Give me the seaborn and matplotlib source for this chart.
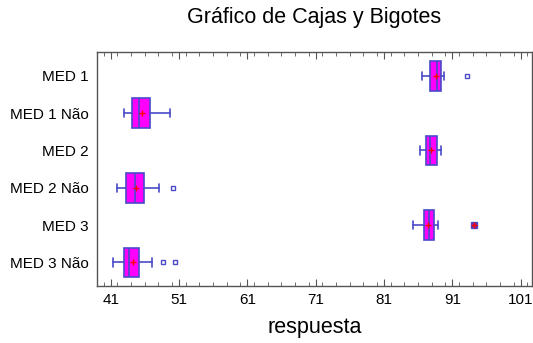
import matplotlib
matplotlib.use("Agg")
import matplotlib.pyplot as plt
import numpy as np
import seaborn as sns
from matplotlib.ticker import MultipleLocator

# box statistics
groups = ["MED 1", "MED 1 Não", "MED 2", "MED 2 Não", "MED 3", "MED 3 Não"]
whis_lo = [86.5, 43.0, 86.2, 42.0, 85.3, 41.4]
q1 = [87.8, 44.1, 87.2, 43.3, 86.9, 43.0]
median = [88.7, 45.1, 87.8, 44.6, 87.6, 43.7]
q3 = [89.3, 46.7, 88.8, 45.9, 88.3, 45.1]
whis_hi = [89.8, 49.7, 89.3, 48.1, 88.9, 47.0]
means = [88.6, 45.6, 87.9, 44.7, 87.5, 44.2]
outliers = [[93.2], [], [], [50.1], [], [48.6, 50.4]]
far_outliers = [[], [], [], [], [94.2], []]
x_ticks = [41, 51, 61, 71, 81, 91, 101]

sns.set_style("ticks")
plt.rcParams["font.family"] = ["Liberation Sans", "DejaVu Sans"]
plt.rcParams["text.color"] = "black"
plt.rcParams["axes.labelcolor"] = "black"
plt.rcParams["xtick.labelcolor"] = "black"
plt.rcParams["ytick.labelcolor"] = "black"

box_edge = "#4a4ac8"
fig = plt.figure(figsize=(5.33, 3.43), dpi=100)
ax = fig.add_axes([0.1826, 0.1662, 0.8154, 0.6813])

stats = []
for i, g in enumerate(groups):
    stats.append(dict(label=g, whislo=whis_lo[i], q1=q1[i], med=median[i],
                      q3=q3[i], whishi=whis_hi[i], mean=means[i],
                      fliers=np.array(outliers[i])))

ax.bxp(stats, positions=np.arange(len(groups)), vert=False, widths=0.8,
       patch_artist=True, showmeans=False, showcaps=True,
       boxprops=dict(facecolor="#ff00ff", edgecolor=box_edge, linewidth=1.2),
       medianprops=dict(color=box_edge, linewidth=1.2),
       whiskerprops=dict(color=box_edge, linewidth=1.2),
       capprops=dict(color=box_edge, linewidth=1.2),
       capwidths=0.22,
       flierprops=dict(marker="s", markersize=3, markerfacecolor="none",
                       markeredgecolor=box_edge, markeredgewidth=1.0))

# far outliers: filled square with red plus
far_x = [v for lst in far_outliers for v in lst]
far_y = [i for i, lst in enumerate(far_outliers) for _ in lst]
ax.plot(far_x, far_y, linestyle="none", marker="s", markersize=4,
        markerfacecolor="#7a2a9a", markeredgecolor=box_edge)
ax.plot(far_x, far_y, linestyle="none", marker="+", markersize=4,
        color="red", markeredgewidth=1.0)

# means
sns.scatterplot(x=means, y=np.arange(len(groups)), marker="+", s=25,
                color="red", linewidth=1.0, ax=ax, zorder=5, legend=False)

ax.set_xlim(39.05, 102.65)
ax.set_ylim(5.63, -0.63)
ax.set_yticks(np.arange(len(groups)))
ax.set_yticklabels(groups, fontsize=11)
ax.set_xticks(x_ticks)
ax.set_xticklabels([str(t) for t in x_ticks], fontsize=11)
ax.xaxis.set_minor_locator(MultipleLocator(2))
ax.tick_params(axis="x", which="both", direction="in", top=True, bottom=True,
               color="#555555")
ax.tick_params(axis="x", which="major", length=5, pad=5)
ax.tick_params(axis="x", which="minor", length=3)
ax.tick_params(axis="y", length=0, pad=6)
for sp in ax.spines.values():
    sp.set_visible(True)
    sp.set_color("#555555")
    sp.set_linewidth(1.0)

ax.set_xlabel("respuesta", fontsize=15.5, labelpad=7)
ax.set_ylabel("")
fig.text(0.59, 0.948, "Gráfico de Cajas y Bigotes", ha="center", va="center",
         fontsize=15.5)

fig.savefig("out.png", dpi=100)
